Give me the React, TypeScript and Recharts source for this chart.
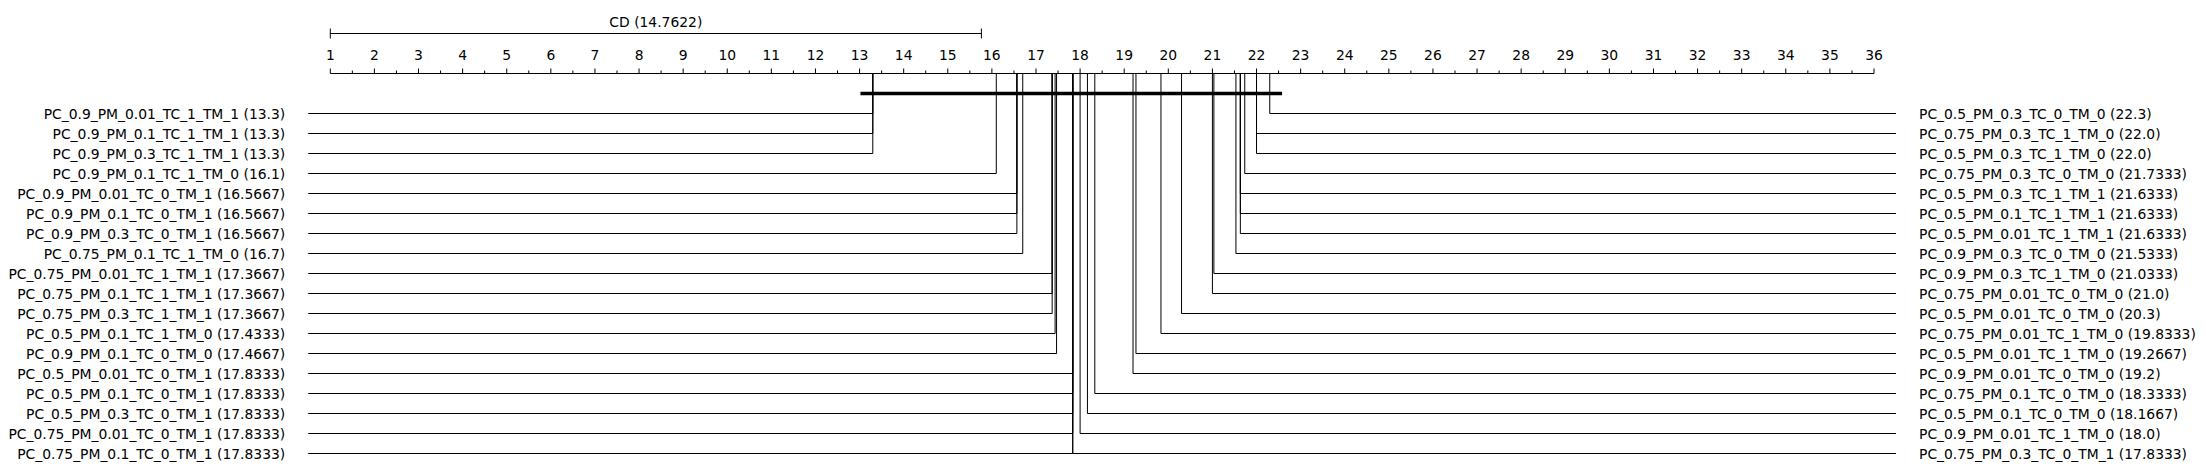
import React from 'react';
import { ComposedChart, XAxis, YAxis, ReferenceLine, ReferenceDot, Scatter } from 'recharts';

const leftNames = [
  'PC_0.9_PM_0.01_TC_1_TM_1',
  'PC_0.9_PM_0.1_TC_1_TM_1',
  'PC_0.9_PM_0.3_TC_1_TM_1',
  'PC_0.9_PM_0.1_TC_1_TM_0',
  'PC_0.9_PM_0.01_TC_0_TM_1',
  'PC_0.9_PM_0.1_TC_0_TM_1',
  'PC_0.9_PM_0.3_TC_0_TM_1',
  'PC_0.75_PM_0.1_TC_1_TM_0',
  'PC_0.75_PM_0.01_TC_1_TM_1',
  'PC_0.75_PM_0.1_TC_1_TM_1',
  'PC_0.75_PM_0.3_TC_1_TM_1',
  'PC_0.5_PM_0.1_TC_1_TM_0',
  'PC_0.9_PM_0.1_TC_0_TM_0',
  'PC_0.5_PM_0.01_TC_0_TM_1',
  'PC_0.5_PM_0.1_TC_0_TM_1',
  'PC_0.5_PM_0.3_TC_0_TM_1',
  'PC_0.75_PM_0.01_TC_0_TM_1',
  'PC_0.75_PM_0.1_TC_0_TM_1',
];
const leftRanks = [
  13.3, 13.3, 13.3, 16.1, 16.5667, 16.5667, 16.5667, 16.7, 17.3667, 17.3667,
  17.3667, 17.4333, 17.4667, 17.8333, 17.8333, 17.8333, 17.8333, 17.8333,
];

const rightNames = [
  'PC_0.5_PM_0.3_TC_0_TM_0',
  'PC_0.75_PM_0.3_TC_1_TM_0',
  'PC_0.5_PM_0.3_TC_1_TM_0',
  'PC_0.75_PM_0.3_TC_0_TM_0',
  'PC_0.5_PM_0.3_TC_1_TM_1',
  'PC_0.5_PM_0.1_TC_1_TM_1',
  'PC_0.5_PM_0.01_TC_1_TM_1',
  'PC_0.9_PM_0.3_TC_0_TM_0',
  'PC_0.9_PM_0.3_TC_1_TM_0',
  'PC_0.75_PM_0.01_TC_0_TM_0',
  'PC_0.5_PM_0.01_TC_0_TM_0',
  'PC_0.75_PM_0.01_TC_1_TM_0',
  'PC_0.5_PM_0.01_TC_1_TM_0',
  'PC_0.9_PM_0.01_TC_0_TM_0',
  'PC_0.75_PM_0.1_TC_0_TM_0',
  'PC_0.5_PM_0.1_TC_0_TM_0',
  'PC_0.9_PM_0.01_TC_1_TM_0',
  'PC_0.75_PM_0.3_TC_0_TM_1',
];
const rightRanks = [
  22.3, 22.0, 22.0, 21.7333, 21.6333, 21.6333, 21.6333, 21.5333, 21.0333, 21.0,
  20.3, 19.8333, 19.2667, 19.2, 18.3333, 18.1667, 18.0, 17.8333,
];

const majorTicks = [
  1, 2, 3, 4, 5, 6, 7, 8, 9, 10, 11, 12, 13, 14, 15, 16, 17, 18,
  19, 20, 21, 22, 23, 24, 25, 26, 27, 28, 29, 30, 31, 32, 33, 34, 35, 36,
];
const minorTicks = [
  1.5, 2.5, 3.5, 4.5, 5.5, 6.5, 7.5, 8.5, 9.5, 10.5, 11.5, 12.5, 13.5, 14.5, 15.5, 16.5, 17.5,
  18.5, 19.5, 20.5, 21.5, 22.5, 23.5, 24.5, 25.5, 26.5, 27.5, 28.5, 29.5, 30.5, 31.5, 32.5, 33.5,
  34.5, 35.5,
];
const allTicks = [...majorTicks, ...minorTicks].sort((a, b) => a - b);

const cdValue = 14.7622;
const cdStart = 1;
const cliqueBounds = [13.02, 22.58];
const lineEdges = [0.5, 36.5];
const rankDomain = [1, 36];

// row positions (in row units, reversed Y axis)
const AXIS_ROW = -2;
const CLIQUE_ROW = -1;
const CD_ROW = -4;
const LAST_ROW = 17;

const FONT = '"DejaVu Sans", sans-serif';
const FS = 13.89;

const fmt = (v: number) => (Number.isInteger(v) ? v.toFixed(1) : String(v));

const anchorData = [
  ...leftRanks.map((r, i) => ({ x: r, y: i })),
  ...rightRanks.map((r, i) => ({ x: r, y: i })),
];

const AxisTick = (props: any) => {
  const { x, y, payload } = props;
  const v = payload.value as number;
  const major = Number.isInteger(v);
  return (
    <g>
      <line x1={x} x2={x} y1={y} y2={y - (major ? 5 : 3)} stroke="#000" strokeWidth={1} />
      {major && (
        <text x={x} y={y - 13.2} textAnchor="middle" fontSize={FS} fontFamily={FONT} fill="#000">
          {v}
        </text>
      )}
    </g>
  );
};

const makeLabel = (text: string, side: 'left' | 'right') => (p: any) => (
  <text
    x={side === 'left' ? p.cx - 23 : p.cx + 23}
    y={p.cy + 5.06}
    textAnchor={side === 'left' ? 'end' : 'start'}
    fontSize={FS}
    fontFamily={FONT}
    fill="#000"
  >
    {text}
  </text>
);

const cdLabel = (p: any) => (
  <text x={p.cx} y={p.cy - 6.5} textAnchor="middle" fontSize={FS} fontFamily={FONT} fill="#000">
    {`CD (${cdValue})`}
  </text>
);

const NoShape = () => <g />;

export default function App() {
  const lines: React.ReactNode[] = [];
  leftRanks.forEach((r, i) => {
    lines.push(
      <ReferenceLine key={`lv${i}`} segment={[{ x: r, y: AXIS_ROW }, { x: r, y: i }]} stroke="#000" strokeWidth={1} ifOverflow="visible" />,
      <ReferenceLine key={`lh${i}`} segment={[{ x: r, y: i }, { x: lineEdges[0], y: i }]} stroke="#000" strokeWidth={1} ifOverflow="visible" />,
      <ReferenceDot key={`ld${i}`} x={lineEdges[0]} y={i} r={0} ifOverflow="visible" shape={makeLabel(`${leftNames[i]} (${fmt(r)})`, 'left')} />,
    );
  });
  rightRanks.forEach((r, i) => {
    lines.push(
      <ReferenceLine key={`rv${i}`} segment={[{ x: r, y: AXIS_ROW }, { x: r, y: i }]} stroke="#000" strokeWidth={1} ifOverflow="visible" />,
      <ReferenceLine key={`rh${i}`} segment={[{ x: r, y: i }, { x: lineEdges[1], y: i }]} stroke="#000" strokeWidth={1} ifOverflow="visible" />,
      <ReferenceDot key={`rd${i}`} x={lineEdges[1]} y={i} r={0} ifOverflow="visible" shape={makeLabel(`${rightNames[i]} (${fmt(r)})`, 'right')} />,
    );
  });

  return (
    <ComposedChart
      width={2190}
      height={459}
      margin={{ top: 35.5, right: 324, bottom: 13.5, left: 322.3 }}
      style={{ background: '#fff' }}
    >
      <XAxis
        xAxisId={0}
        dataKey="x"
        type="number"
        orientation="top"
        domain={rankDomain}
        ticks={allTicks}
        interval={0}
        height={30}
        tickSize={0}
        tickMargin={0}
        tickLine={false}
        axisLine={{ stroke: '#000', strokeWidth: 1 }}
        tick={<AxisTick />}
      />
      <YAxis yAxisId={0} dataKey="y" type="number" domain={[AXIS_ROW, LAST_ROW]} reversed hide />
      <Scatter data={anchorData} dataKey="y" shape={NoShape} isAnimationActive={false} legendType="none" />
      {lines}
      {/* CD bar */}
      <ReferenceLine segment={[{ x: cdStart, y: CD_ROW }, { x: cdStart + cdValue, y: CD_ROW }]} stroke="#000" strokeWidth={1} ifOverflow="visible" />
      <ReferenceLine segment={[{ x: cdStart, y: CD_ROW - 0.25 }, { x: cdStart, y: CD_ROW + 0.25 }]} stroke="#000" strokeWidth={1} ifOverflow="visible" />
      <ReferenceLine segment={[{ x: cdStart + cdValue, y: CD_ROW - 0.25 }, { x: cdStart + cdValue, y: CD_ROW + 0.25 }]} stroke="#000" strokeWidth={1} ifOverflow="visible" />
      <ReferenceDot x={cdStart + cdValue / 2} y={CD_ROW} r={0} ifOverflow="visible" shape={cdLabel} />
      {/* clique bar */}
      <ReferenceLine segment={[{ x: cliqueBounds[0], y: CLIQUE_ROW }, { x: cliqueBounds[1], y: CLIQUE_ROW }]} stroke="#000" strokeWidth={3.5} ifOverflow="visible" />
    </ComposedChart>
  );
}
